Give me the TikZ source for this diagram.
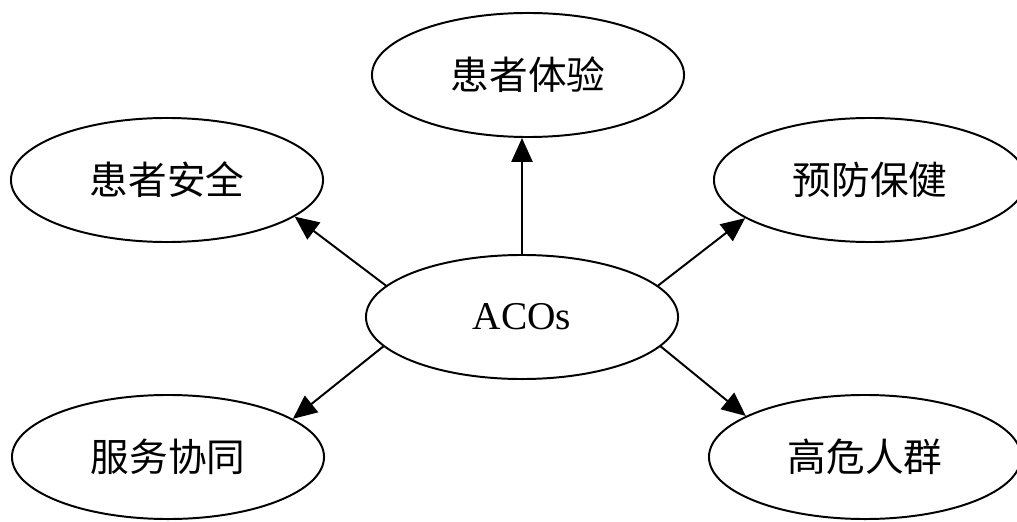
\documentclass[tikz,border=0pt]{standalone}
\usepackage{fontspec}
\setmainfont{Liberation Serif}
\newfontfamily\cjk{Noto Sans CJK SC}
\usetikzlibrary{shapes.geometric,arrows.meta}

\begin{document}
\begin{tikzpicture}[x=0.025cm,y=0.025cm,
  bubble/.style={ellipse, draw, line width=1.4pt, minimum width=7.8cm, minimum height=3.1cm, inner sep=0pt, font=\cjk\fontsize{27.5}{30}\selectfont},
  link/.style={line width=1.4pt, -{Triangle[length=17pt,width=15pt]}}]

\useasboundingbox (0,0) rectangle (1017,521);

\node [bubble, font=\fontsize{28}{30}\selectfont] (aco) at (522,204) {ACOs};
\node [bubble] (exp)  at (528,446) {患者体验};
\node [bubble] (safe) at (167,341) {患者安全};
\node [bubble] (prev) at (870,341) {预防保健};
\node [bubble] (coop) at (168,64)  {服务协同};
\node [bubble] (risk) at (865,64)  {高危人群};

% arrows out of ACOs
\draw [link] (aco.north) -- (aco.north |- exp.south);
\draw [link] (aco.167) -- (safe.-16);
\draw [link] (aco.13)  -- (prev.197);
\draw [link] (aco.192) -- (coop.17);
\draw [link] (aco.348) -- (risk.161);

\end{tikzpicture}
\end{document}
